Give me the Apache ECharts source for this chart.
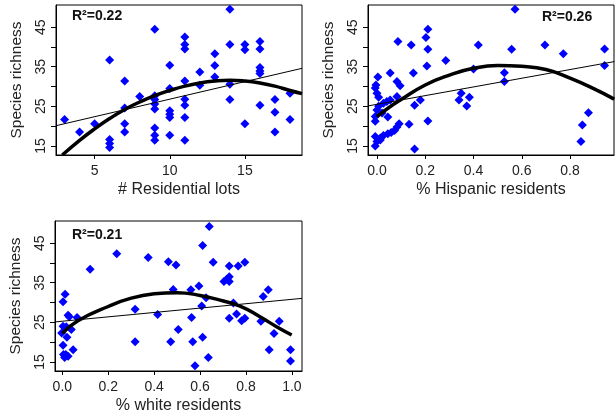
<!DOCTYPE html>
<html lang="en">
<head>
<meta charset="UTF-8">
<script src="https://cdn.jsdelivr.net/npm/echarts@6.0.0/dist/echarts.min.js"></script>
</head>
<body style="margin:0;background:#fff;">
<div id="chart" style="width:615px;height:415px;"></div>
<script type="text/javascript">

// panel 1: # residential lots vs species richness
var lotsPts = [[3,21.7],[4,18.5],[5,20.6],[6,36.7],[6,16.6],[6,15.6],[6,14.6],[7,31.4],[7,24.6],[7,20.6],[7,18.5],
  [8,27.5],[9,44.5],[9,27.7],[9,26.7],[9,25.6],[9,24.3],[9,19.5],[9,17.7],[9,16.4],[10,35.4],[10,29.5],[10,23.9],
  [10,23],[10,22.2],[10,17.7],[11,42.5],[11,40.6],[11,39.5],[11,31.4],[11,26.8],[11,25.3],[11,22.2],[11,16.4],
  [12,33.7],[12,30.3],[13,38.3],[13,35.3],[13,32.4],[14,49.5],[14,40.6],[14,30.6],[14,26.7],[15,40.6],[15,39.3],
  [15,20.6],[16,41.4],[16,39.5],[16,34.8],[16,33.9],[16,33.3],[16,25.3],[17,26.7],[17,23.5],[17,18.5],[18,28.3],[18,21.7]];
var lotsLin = [[2.43,20.1],[18.8,34.6]];
var lotsQuad = [[2.85,12.7],[4,16.4],[5,19.3],[6,21.9],[7,24.2],[8,26.1],[9,27.7],[10,29],[11,30.1],[12,30.9],
  [13,31.4],[14,31.6],[15,31.4],[16,30.9],[17,30.1],[18,29],[18.8,28.2]];

// panel 2: % hispanic residents
var hispPts = [[0.004,32.4],[-0.004,30.4],[-0.007,29.6],[0,28.3],[0.007,27.3],[0.055,33.4],[0.083,31.3],[0.096,30.2],
  [0.151,33.4],[0.207,35.2],[0.285,36.6],[0.007,25],[0.027,25.8],[0.041,26.2],[0.055,26.6],[0.083,27.5],[0,24.1],
  [-0.007,22.4],[0.021,23.3],[0.045,22.3],[-0.007,21.2],[0.156,25.3],[0.18,26.6],[0.211,21.3],[0.133,20.5],
  [0.092,20.6],[0.083,19.8],[0.073,18.9],[0.059,18.4],[0.045,18.1],[0.027,17.6],[0.014,17],[-0.007,17.4],[0,16.1],
  [0.014,16.5],[-0.007,15],[0.156,14.2],[0.087,41.4],[0.142,40.5],[0.203,42.4],[0.211,44.5],[0.211,39.4],
  [0.34,26.6],[0.349,28.3],[0.372,25.1],[0.383,27.3],[0.4,34.4],[0.42,40.5],[0.528,33.5],[0.528,31.3],[0.558,39.4],
  [0.572,49.5],[0.696,40.5],[0.772,38.3],[0.876,23.4],[0.851,20.3],[0.845,16.1],[0.943,39.5],[0.943,35.3]];
var hispLin = [[-0.037,25.1],[0.983,36.3]];
var hispQuad = [[0,22.4],[0.05,24.7],[0.1,26.7],[0.2,30.4],[0.3,32.9],[0.4,34.6],[0.5,35.3],[0.6,35.1],
  [0.7,34.3],[0.8,32.1],[0.9,29.4],[0.983,26.8]];

// panel 3: % white residents
var whitePts = [[0.012,32.1],[0.003,30.2],[0.025,26.8],[0.03,26.4],[0.064,26.2],[0.003,24],[0.017,23.9],[-0.003,22.3],
  [0.039,23.2],[0.02,21.2],[0.003,19.2],[0.047,18.1],[0.015,16.9],[0.025,16.4],[0.01,16.1],[0.005,16.9],
  [0.121,38.4],[0.237,42.3],[0.317,28.3],[0.317,20.1],[0.374,41.4],[0.415,27],[0.462,40.3],[0.472,20.1],
  [0.483,33.3],[0.495,39.5],[0.505,23.2],[0.56,33.2],[0.563,26.2],[0.568,20.1],[0.578,14],[0.595,34.2],
  [0.607,29.1],[0.611,44.4],[0.611,21.2],[0.626,31.2],[0.636,16.1],[0.64,49.2],[0.657,40.2],[0.704,35.3],
  [0.716,35.9],[0.727,36.5],[0.727,35.3],[0.727,39.2],[0.766,39.2],[0.795,40.2],[0.745,29.9],[0.875,31.5],
  [0.897,33.2],[0.727,26],[0.759,27.1],[0.781,25.4],[0.795,26],[0.865,25.3],[0.945,25.3],[0.922,22.2],
  [0.901,18.1],[0.994,18.1],[0.994,15.2]];
var whiteLin = [[-0.032,25.1],[1.044,31.05]];
var whiteQuad = [[0,22.2],[0.068,25.4],[0.2,29],[0.3,31.1],[0.4,32.2],[0.5,32.5],[0.6,31.8],[0.687,30.6],
  [0.774,29.1],[0.861,26.4],[0.933,23.9],[0.999,21.8]];

var yTicks = [15,20,25,30,35,40,45];
var yLabels = [15,25,35,45];
var lotsTicks = [5,10,15];
var fracTicks2 = [0,0.2,0.4,0.6,0.8];
var fracTicks3 = [0,0.2,0.4,0.6,0.8,1.0];
var r2Labels = ["R²=0.22","R²=0.26","R²=0.21"];
var xNames = ["# Residential lots","% Hispanic residents","% white residents"];

var FONT = '"Liberation Sans", Arial, sans-serif';
var TXT = '#222';

function yAx(gi) {
    return {
        gridIndex: gi, type: 'value', min: 12.7, max: 50.6,
        name: 'Species richness', nameLocation: 'middle', nameGap: 31,
        nameTextStyle: {fontSize: 15.5, color: TXT, fontFamily: FONT},
        axisLine: {show: true, onZero: false, lineStyle: {color: '#000', width: 1}},
        axisTick: {show: true, length: 5, lineStyle: {color: '#000'}, customValues: yTicks},
        axisLabel: {rotate: 90, margin: 8, fontSize: 14, color: TXT, fontFamily: FONT, customValues: yLabels},
        splitLine: {show: false}
    };
}

function xAx(gi, min, max, ticks, name, dec) {
    return {
        gridIndex: gi, type: 'value', min: min, max: max,
        name: name, nameLocation: 'middle', nameGap: 27,
        nameTextStyle: {fontSize: 16, color: TXT, fontFamily: FONT},
        axisLine: {show: true, onZero: false, lineStyle: {color: '#000', width: 1}},
        axisTick: {show: true, length: 4, lineStyle: {color: '#000'}, customValues: ticks},
        axisLabel: {margin: 9, fontSize: 14, color: TXT, fontFamily: FONT, customValues: ticks,
            formatter: function (v) { return dec ? v.toFixed(1) : String(v); }},
        splitLine: {show: false}
    };
}

function scat(gi, data) {
    return {type: 'scatter', xAxisIndex: gi, yAxisIndex: gi, data: data, symbol: 'diamond',
        symbolSize: [9, 9], itemStyle: {color: '#0000ff', opacity: 1}, z: 2};
}

function fit(gi, data, w, smooth) {
    return {type: 'line', xAxisIndex: gi, yAxisIndex: gi, data: data, showSymbol: false, smooth: smooth,
        lineStyle: {color: '#000', width: w}, clip: true, z: 3, silent: true};
}

var chart = echarts.init(document.getElementById('chart'));
var gridBase = {show: true, borderColor: '#000', borderWidth: 1, backgroundColor: 'transparent'};
chart.setOption({
    animation: false,
    grid: [
        Object.assign({left: 56, top: 5, width: 246, height: 150}, gridBase),
        Object.assign({left: 368, top: 5, width: 246, height: 150}, gridBase),
        Object.assign({left: 55, top: 221, width: 247, height: 150}, gridBase)
    ],
    xAxis: [
        xAx(0, 2.43, 18.8, lotsTicks, xNames[0], false),
        xAx(1, -0.037, 0.982, fracTicks2, xNames[1], true),
        xAx(2, -0.032, 1.044, fracTicks3, xNames[2], true)
    ],
    yAxis: [yAx(0), yAx(1), yAx(2)],
    graphic: [
        {type: 'text', left: 72, top: 9, style: {text: r2Labels[0], font: 'bold 14px ' + FONT, fill: '#111'}},
        {type: 'text', left: 542, top: 10, style: {text: r2Labels[1], font: 'bold 14px ' + FONT, fill: '#111'}},
        {type: 'text', left: 72, top: 228, style: {text: r2Labels[2], font: 'bold 14px ' + FONT, fill: '#111'}}
    ],
    series: [
        scat(0, lotsPts), scat(1, hispPts), scat(2, whitePts),
        fit(0, lotsLin, 1, false), fit(1, hispLin, 1, false), fit(2, whiteLin, 1, false),
        fit(0, lotsQuad, 3.5, true), fit(1, hispQuad, 3.5, true), fit(2, whiteQuad, 3.5, true)
    ]
});
</script>
</body>
</html>
